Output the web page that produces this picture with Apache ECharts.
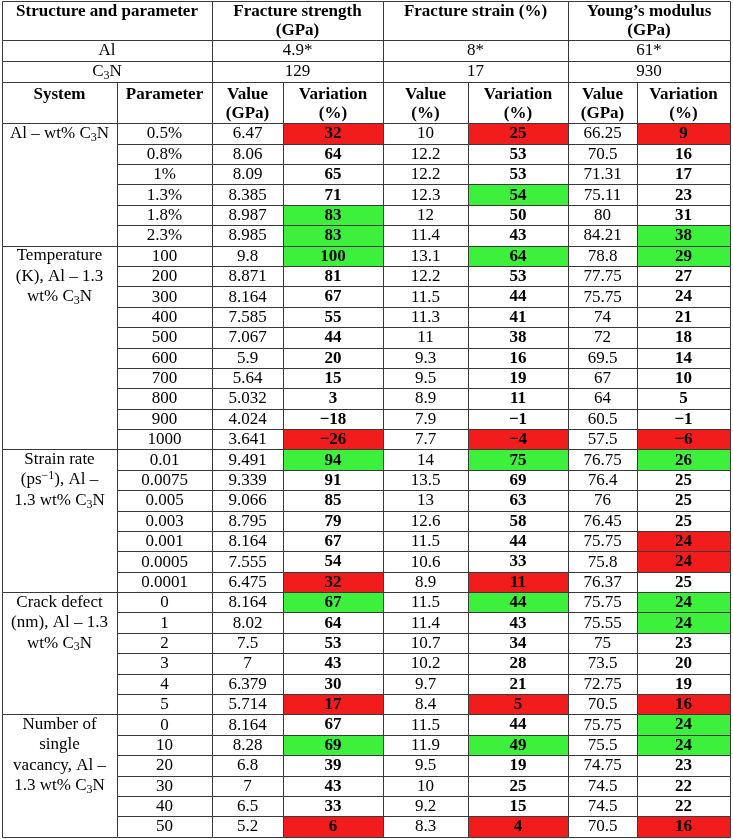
<!DOCTYPE html>
<html>
<head>
<meta charset="utf-8">
<script src="https://cdn.jsdelivr.net/npm/echarts@6/dist/echarts.min.js"></script>
<style>
html,body{margin:0;padding:0;background:#fff;}
#chart{width:733px;height:839px;}
</style>
</head>
<body>
<div id="chart"></div>
<script>
// ---------------- DATA ----------------
const propertyHeaders = ['Fracture strength\n(GPa)', 'Fracture strain (%)', 'Young\u2019s modulus\n(GPa)'];
const alReference = ['4.9*', '8*', '61*'];
const c3nReference = ['129', '17', '930'];
const subHeaders = ['System', 'Parameter', 'Value\n(GPa)', 'Variation\n(%)', 'Value\n(%)', 'Variation\n(%)', 'Value\n(GPa)', 'Variation\n(%)'];

const systems = [
  'Al \u2013 wt% C\u2083N',
  'Temperature\n(K), Al \u2013 1.3\nwt% C\u2083N',
  'Strain rate\n(ps\u207B\u00B9), Al \u2013\n1.3 wt% C\u2083N',
  'Crack defect\n(nm), Al \u2013 1.3\nwt% C\u2083N',
  'Number of\nsingle\nvacancy, Al \u2013\n1.3 wt% C\u2083N'
];
const groupSizes = [6, 10, 7, 6, 6];

const parameters = ['0.5%','0.8%','1%','1.3%','1.8%','2.3%',
  '100','200','300','400','500','600','700','800','900','1000',
  '0.01','0.0075','0.005','0.003','0.001','0.0005','0.0001',
  '0','1','2','3','4','5',
  '0','10','20','30','40','50'];

const strengthValue = [6.47,8.06,8.09,8.385,8.987,8.985,
  9.8,8.871,8.164,7.585,7.067,5.9,5.64,5.032,4.024,3.641,
  9.491,9.339,9.066,8.795,8.164,7.555,6.475,
  8.164,8.02,7.5,7,6.379,5.714,
  8.164,8.28,6.8,7,6.5,5.2];
const strengthVar = [32,64,65,71,83,83,
  100,81,67,55,44,20,15,3,-18,-26,
  94,91,85,79,67,54,32,
  67,64,53,43,30,17,
  67,69,39,43,33,6];
const strengthFlag = ['min','','','','max','max',
  'max','','','','','','','','','min',
  'max','','','','','','min',
  'max','','','','','min',
  '','max','','','','min'];

const strainValue = [10,12.2,12.2,12.3,12,11.4,
  13.1,12.2,11.5,11.3,11,9.3,9.5,8.9,7.9,7.7,
  14,13.5,13,12.6,11.5,10.6,8.9,
  11.5,11.4,10.7,10.2,9.7,8.4,
  11.5,11.9,9.5,10,9.2,8.3];
const strainVar = [25,53,53,54,50,43,
  64,53,44,41,38,16,19,11,-1,-4,
  75,69,63,58,44,33,11,
  44,43,34,28,21,5,
  44,49,19,25,15,4];
const strainFlag = ['min','','','max','','',
  'max','','','','','','','','','min',
  'max','','','','','','min',
  'max','','','','','min',
  '','max','','','','min'];

const modulusValue = [66.25,70.5,71.31,75.11,80,84.21,
  78.8,77.75,75.75,74,72,69.5,67,64,60.5,57.5,
  76.75,76.4,76,76.45,75.75,75.8,76.37,
  75.75,75.55,75,73.5,72.75,70.5,
  75.75,75.5,74.75,74.5,74.5,70.5];
const modulusVar = [9,16,17,23,31,38,
  29,27,24,21,18,14,10,5,-1,-6,
  26,25,25,25,24,24,25,
  24,24,23,20,19,16,
  24,24,23,22,22,16];
const modulusFlag = ['min','','','','','max',
  'max','','','','','','','','','min',
  'max','','','','min','min','',
  'max','max','','','','min',
  'max','max','','','','min'];

// ---------------- LAYOUT (axis units) ----------------
const COL = [2, 117, 212, 283, 383, 468, 568, 637, 730];
const HEAD = [1, 40, 61, 82, 123.3];
const DATA_BOTTOM = 836.7;
const NROWS = parameters.length;
const ROW_H = (DATA_BOTTOM - HEAD[4]) / NROWS;
function rowEdge(i) { return HEAD[4] + i * ROW_H; }

const FLAG_COLORS = { max: '#3cf03c', min: '#f31c1c' };
const FONT = '"Liberation Serif", "Times New Roman", "DejaVu Serif", serif';

function fmt(v) { return v < 0 ? '\u2212' + Math.abs(v) : String(v); }
// turn unicode sub/superscripts into rich-text fragments
function toRich(t) {
  return t.replace(/\u2083/g, '{sub|3}').replace(/\u207B\u00B9/g, '{sup|\u22121}');
}

const cells = [];
function addCell(c0, c1, y0, y1, text, opts) {
  cells.push(Object.assign({ value: [COL[c0], COL[c1], y0, y1], text: text, fill: '#fff', bold: false, vAlign: 'middle', pad: 0, lh: 19 }, opts || {}));
}

// header rows
addCell(0, 2, HEAD[0], HEAD[1], 'Structure and parameter', { bold: true, vAlign: 'top', pad: 1 });
propertyHeaders.forEach((t, k) => addCell(2 + 2 * k, 4 + 2 * k, HEAD[0], HEAD[1], t, { bold: true, vAlign: 'top', pad: 1 }));
addCell(0, 2, HEAD[1], HEAD[2], 'Al');
alReference.forEach((t, k) => addCell(2 + 2 * k, 4 + 2 * k, HEAD[1], HEAD[2], t));
addCell(0, 2, HEAD[2], HEAD[3], 'C\u2083N');
c3nReference.forEach((t, k) => addCell(2 + 2 * k, 4 + 2 * k, HEAD[2], HEAD[3], t));
subHeaders.forEach((t, k) => addCell(k, k + 1, HEAD[3], HEAD[4], t, { bold: true, vAlign: 'top', pad: 3.5, lh: 18.5 }));

// system merged cells
let start = 0;
systems.forEach((s, g) => {
  addCell(0, 1, rowEdge(start), rowEdge(start + groupSizes[g]), s, { vAlign: 'top', pad: 0, lh: ROW_H });
  start += groupSizes[g];
});

// data rows
const cols = [
  [strengthValue, null], [strengthVar, strengthFlag],
  [strainValue, null], [strainVar, strainFlag],
  [modulusValue, null], [modulusVar, modulusFlag]
];
for (let i = 0; i < NROWS; i++) {
  addCell(1, 2, rowEdge(i), rowEdge(i + 1), parameters[i]);
  cols.forEach((pair, k) => {
    const arr = pair[0], flags = pair[1];
    const f = flags ? flags[i] : '';
    addCell(2 + k, 3 + k, rowEdge(i), rowEdge(i + 1), fmt(arr[i]), {
      bold: !!flags,
      fill: f ? FLAG_COLORS[f] : '#fff'
    });
  });
}

function snap(v) { return Math.round(v) + 0.5; }

const chart = echarts.init(document.getElementById('chart'), null, { renderer: 'canvas' });
chart.setOption({
  animation: false,
  backgroundColor: '#fff',
  grid: { left: 0, right: 0, top: 0, bottom: 0 },
  xAxis: { type: 'value', min: 0, max: 733, show: false },
  yAxis: { type: 'value', min: 0, max: 839, inverse: true, show: false },
  series: [{
    type: 'custom',
    coordinateSystem: 'cartesian2d',
    silent: true,
    data: cells.map(c => ({ value: c.value })),
    renderItem: function (params, api) {
      const c = cells[params.dataIndex];
      const p0 = api.coord([api.value(0), api.value(2)]);
      const p1 = api.coord([api.value(1), api.value(3)]);
      const x0 = snap(p0[0]), x1 = snap(p1[0]);
      const y0 = snap(p0[1]), y1 = snap(p1[1]);
      const cx = (p0[0] + p1[0]) / 2;
      const ty = c.vAlign === 'middle' ? (p0[1] + p1[1]) / 2 + 0.5 : p0[1] + c.pad;
      const weight = c.bold ? 'bold' : 'normal';
      return {
        type: 'group',
        children: [
          { type: 'rect', shape: { x: x0, y: y0, width: x1 - x0, height: y1 - y0 }, style: { fill: c.fill }, z2: 0 },
          { type: 'rect', shape: { x: x0, y: y0, width: x1 - x0, height: y1 - y0 }, style: { fill: 'none', stroke: '#3a3a3a', lineWidth: 1 }, z2: 10 },
          { type: 'text', x: cx, y: ty, style: {
              text: toRich(c.text), fill: '#000', fontFamily: FONT, fontSize: 17,
              fontWeight: weight, align: 'center',
              verticalAlign: c.vAlign, lineHeight: c.lh,
              rich: {
                sub: { fontFamily: FONT, fontSize: 12, fontWeight: weight, fill: '#000', verticalAlign: 'bottom', lineHeight: 13 },
                sup: { fontFamily: FONT, fontSize: 12, fontWeight: weight, fill: '#000', verticalAlign: 'top', lineHeight: 12 }
              }
            }, z2: 20 }
        ]
      };
    }
  }]
});
</script>
</body>
</html>
